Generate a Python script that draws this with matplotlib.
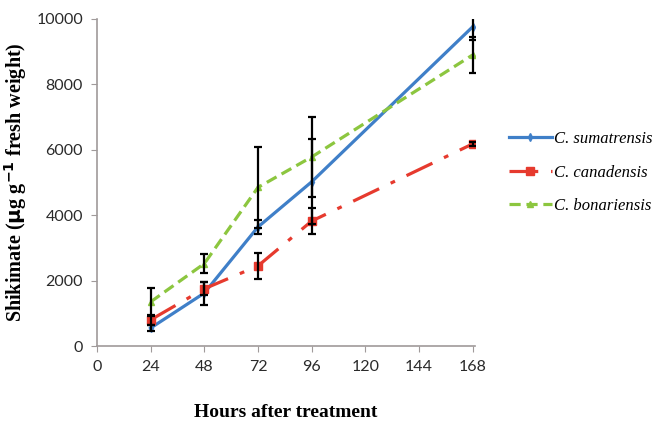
import matplotlib
matplotlib.use('Agg')
import matplotlib.pyplot as plt

hours = [24, 48, 72, 96, 168]

sumatrensis = [550, 1620, 3640, 5020, 9760]
sumatrensis_err = [100, 350, 200, 1300, 400]

canadensis = [800, 1750, 2450, 3820, 6180]
canadensis_err = [150, 200, 400, 400, 50]

bonariensis = [1350, 2520, 4850, 5780, 8900]
bonariensis_err = [430, 280, 1250, 1220, 550]

x_ticks = [0, 24, 48, 72, 96, 120, 144, 168]
y_ticks = [0, 2000, 4000, 6000, 8000, 10000]

fig = plt.figure(figsize=(6.55, 4.22), dpi=100)
ax = fig.add_axes([0.148, 0.18, 0.577, 0.775])

err_kw = dict(ecolor='black', elinewidth=1.6, capsize=3, capthick=1.6, zorder=4)

ax.errorbar(hours, sumatrensis, yerr=sumatrensis_err, fmt='none', **err_kw)
ax.errorbar(hours, canadensis, yerr=canadensis_err, fmt='none', **err_kw)
ax.errorbar(hours, bonariensis, yerr=bonariensis_err, fmt='none', **err_kw)

ax.plot(hours, sumatrensis, color='#3f7fc8', linewidth=2.3, marker='d',
        markersize=4, label='C. sumatrensis', zorder=3)
ax.plot(hours, canadensis, color='#e63a2e', linewidth=2.3, marker='s',
        markersize=5.5, dashes=[9, 4, 1.5, 4], label='C. canadensis', zorder=3)
ax.plot(hours, bonariensis, color='#8cc63f', linewidth=2.3, marker='^',
        markersize=5, linestyle='--', dashes=[3.5, 1.8], label='C. bonariensis', zorder=3)

ax.set_xlim(0, 169)
ax.set_ylim(0, 10000)
ax.set_xticks(x_ticks)
ax.set_yticks(y_ticks)

for s in ['top', 'right']:
    ax.spines[s].set_visible(False)
for s in ['left', 'bottom']:
    ax.spines[s].set_color('#a09a9a')
    ax.spines[s].set_linewidth(1.2)
ax.tick_params(direction='out', length=4, color='#a09a9a', labelsize=11.5,
               labelcolor='#2a2a2a', pad=6)
for lbl in ax.get_xticklabels() + ax.get_yticklabels():
    lbl.set_family('Lato')

ax.set_ylabel(r'Shikimate ($\mathbf{\mu}$g g$^{\mathbf{-1}}$ fresh weight)',
              family='Liberation Serif', fontweight='bold', fontsize=14.5, labelpad=5)
ax.set_xlabel('Hours after treatment', family='Liberation Serif',
              fontweight='bold', fontsize=14, labelpad=22)

leg = ax.legend(loc='center left', bbox_to_anchor=(1.05, 0.53), frameon=False,
                prop={'family': 'Liberation Serif', 'style': 'italic', 'size': 12},
                handlelength=2.6, handletextpad=0.1, labelspacing=1.05)

fig.savefig('out.png', dpi=100)
